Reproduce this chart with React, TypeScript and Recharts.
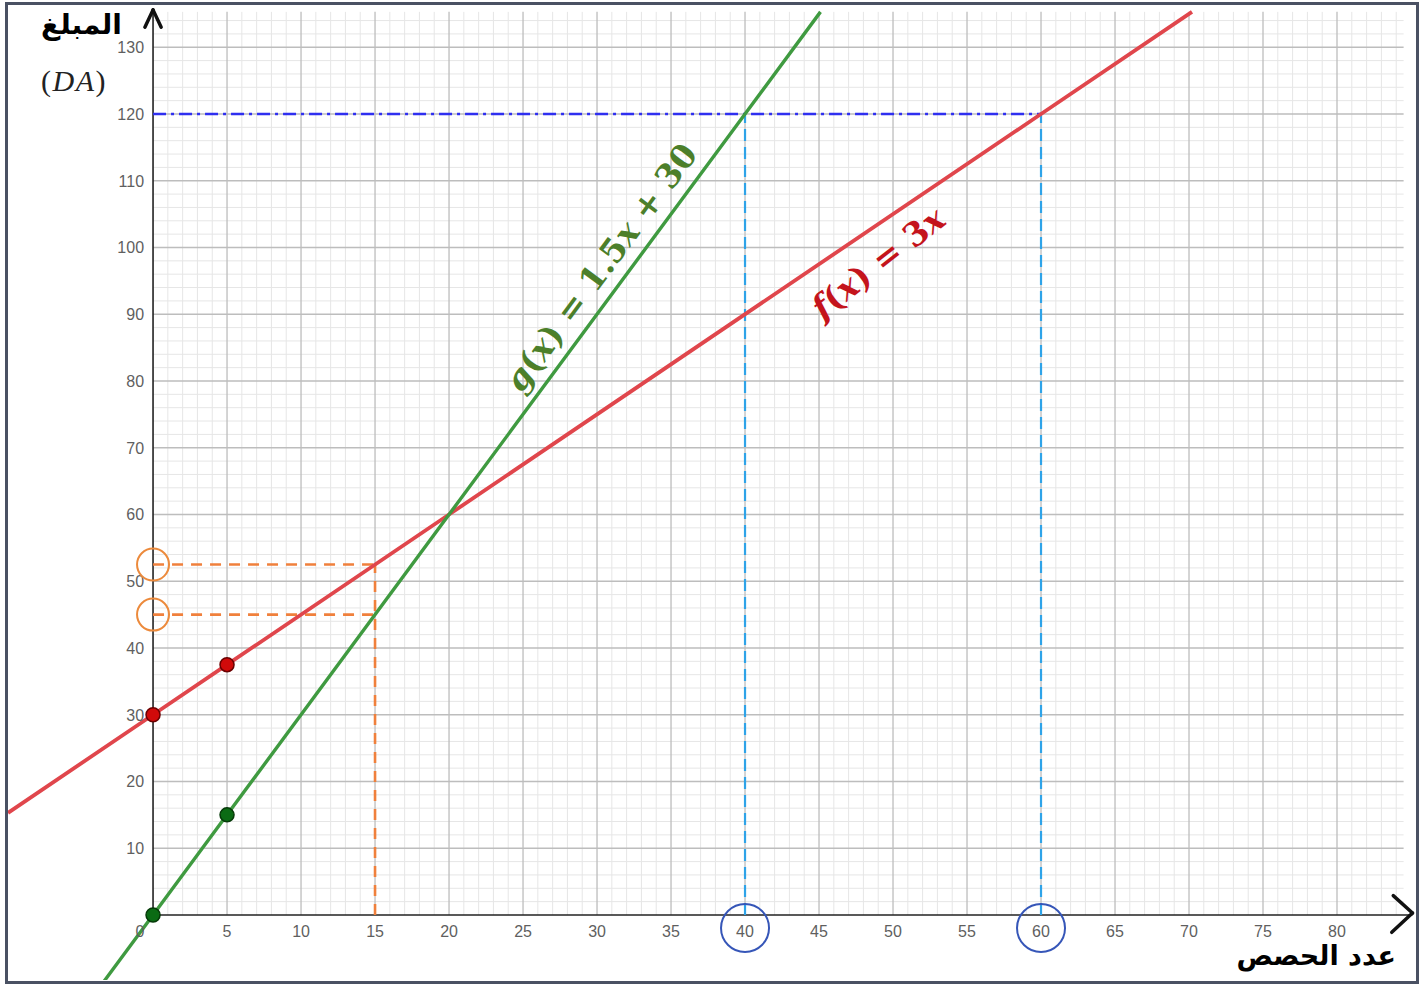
import React from "react";
import {
  ComposedChart,
  Line,
  Scatter,
  XAxis,
  YAxis,
  ReferenceLine,
  ReferenceDot,
} from "recharts";

const W = 1427;
const H = 985;

// axis ranges
const xDomain = [-9.8, 85.27];
const yDomain = [-9.74, 135.88];
const gridTopY = 135.3;
const gridRightX = 84.5;

const xTicks = [0, 5, 10, 15, 20, 25, 30, 35, 40, 45, 50, 55, 60, 65, 70, 75, 80];
const yTicks = [10, 20, 30, 40, 50, 60, 70, 80, 90, 100, 110, 120, 130];
const minorXStep = 1;
const minorYStep = 2;

// red line (labelled f(x) = 3x in the picture)
const redLine = [
  { x: -9.8, y: 15.3 },
  { x: 0, y: 30 },
  { x: 5, y: 37.5 },
  { x: 20, y: 60 },
  { x: 60, y: 120 },
  { x: 70.2, y: 135.3 },
];
const redDots = [
  { x: 0, y: 30 },
  { x: 5, y: 37.5 },
];

// green line (labelled g(x) = 1.5x + 30 in the picture)
const greenLine = [
  { x: -3.4, y: -10.2 },
  { x: 0, y: 0 },
  { x: 5, y: 15 },
  { x: 20, y: 60 },
  { x: 40, y: 120 },
  { x: 45.1, y: 135.3 },
];
const greenDots = [
  { x: 0, y: 0 },
  { x: 5, y: 15 },
];

// reading helpers
const orangeX = 15;
const orangeLevels = [52.5, 45];
const blueLevel = 120;
const blueXs = [40, 60];

const range = (from: number, to: number, step: number) => {
  const out: number[] = [];
  for (let v = from; v <= to + 1e-9; v += step) out.push(Math.round(v * 100) / 100);
  return out;
};

const minorX = range(0, 84, minorXStep).filter((v) => v % 5 !== 0);
const minorY = range(0, 134, minorYStep).filter((v) => v % 10 !== 0);
const majorX = range(5, 80, 5);
const majorY = range(10, 130, 10);

const tickFont = "'Liberation Sans', Arial, sans-serif";
const tickColor = "#5f5f5f";

const xTickLabel = (value: number) => (props: any) => {
  const { x, y } = props.viewBox;
  return (
    <text
      x={value === 0 ? x - 13 : x}
      y={y + 22}
      textAnchor="middle"
      fontFamily={tickFont}
      fontSize={16}
      fill={tickColor}
    >
      {value}
    </text>
  );
};

const yTickLabel = (value: number) => (props: any) => {
  const { x, y } = props.viewBox;
  return (
    <text
      x={x - 9}
      y={y + 6}
      textAnchor="end"
      fontFamily={tickFont}
      fontSize={16}
      fill={tickColor}
    >
      {value}
    </text>
  );
};

const rotatedLabel = (angle: number, color: string, parts: [string, boolean][]) => (props: any) => {
  const { x, y } = props.viewBox;
  return (
    <text
      x={x}
      y={y}
      transform={`rotate(${angle} ${x} ${y})`}
      textAnchor="middle"
      dominantBaseline="middle"
      fontFamily="'DejaVu Serif', 'Liberation Serif', serif"
      fontWeight="bold"
      fontSize={33}
      fill={color}
    >
      {parts.map(([t, it], i) => (
        <tspan key={i} fontStyle={it ? "italic" : "normal"}>
          {t}
        </tspan>
      ))}
    </text>
  );
};

const dotShape = (fill: string, stroke: string) => (props: any) => (
  <circle cx={props.cx} cy={props.cy} r={7} fill={fill} stroke={stroke} strokeWidth={1.5} />
);

export default function App() {
  return (
    <div style={{ position: "absolute", left: 0, top: 0, width: W, height: H, background: "#fff" }}>
      <div
        style={{
          position: "absolute",
          left: 5,
          top: 2,
          width: 1408,
          height: 976,
          border: "3px solid #4a5163",
          pointerEvents: "none",
        }}
      />
      <ComposedChart
        width={W}
        height={H}
        margin={{ top: 8, right: 12, bottom: 5, left: 8 }}
        style={{ position: "absolute", left: 0, top: 0 }}
      >
        <XAxis type="number" dataKey="x" domain={xDomain} allowDataOverflow hide />
        <YAxis type="number" dataKey="y" domain={yDomain} allowDataOverflow hide />

        {minorX.map((v) => (
          <ReferenceLine
            key={`mx${v}`}
            segment={[{ x: v, y: 0 }, { x: v, y: gridTopY }]}
            stroke="#e6e6e6"
            strokeWidth={1}
          />
        ))}
        {minorY.map((v) => (
          <ReferenceLine
            key={`my${v}`}
            segment={[{ x: 0, y: v }, { x: gridRightX, y: v }]}
            stroke="#e6e6e6"
            strokeWidth={1}
          />
        ))}
        {majorX.map((v) => (
          <ReferenceLine
            key={`Mx${v}`}
            segment={[{ x: v, y: 0 }, { x: v, y: gridTopY }]}
            stroke="#bdbdbd"
            strokeWidth={1.3}
          />
        ))}
        {majorY.map((v) => (
          <ReferenceLine
            key={`My${v}`}
            segment={[{ x: 0, y: v }, { x: gridRightX, y: v }]}
            stroke="#bdbdbd"
            strokeWidth={1.3}
          />
        ))}

        {/* axes */}
        <ReferenceLine segment={[{ x: 0, y: 0 }, { x: 0, y: 135.6 }]} stroke="#222" strokeWidth={1.6} />
        <ReferenceLine segment={[{ x: 0, y: 0 }, { x: 85.1, y: 0 }]} stroke="#222" strokeWidth={1.6} />
        <ReferenceLine segment={[{ x: -0.55, y: 133 }, { x: 0, y: 135.6 }]} stroke="#111" strokeWidth={3.5} strokeLinecap="round" />
        <ReferenceLine segment={[{ x: 0.55, y: 133 }, { x: 0, y: 135.6 }]} stroke="#111" strokeWidth={3.5} strokeLinecap="round" />
        <ReferenceLine segment={[{ x: 83.8, y: 2.9 }, { x: 85.1, y: 0.3 }]} stroke="#111" strokeWidth={3.5} strokeLinecap="round" />
        <ReferenceLine segment={[{ x: 83.7, y: -2.6 }, { x: 85.1, y: 0.3 }]} stroke="#111" strokeWidth={3.5} strokeLinecap="round" />

        {xTicks.map((t) => (
          <ReferenceDot key={`xt${t}`} x={t} y={0} r={0} fill="none" stroke="none" label={xTickLabel(t)} />
        ))}
        {yTicks.map((t) => (
          <ReferenceDot key={`yt${t}`} x={0} y={t} r={0} fill="none" stroke="none" label={yTickLabel(t)} />
        ))}

        {/* blue readings */}
        <ReferenceLine
          segment={[{ x: 0, y: blueLevel }, { x: blueXs[1], y: blueLevel }]}
          stroke="#2f2ff0"
          strokeWidth={2.6}
          strokeDasharray="13 5 3 5"
        />
        {blueXs.map((bx) => (
          <ReferenceLine
            key={`bv${bx}`}
            segment={[{ x: bx, y: 0 }, { x: bx, y: blueLevel }]}
            stroke="#2ea3e8"
            strokeWidth={2.2}
            strokeDasharray="12 6"
          />
        ))}

        {/* orange readings */}
        {orangeLevels.map((lv) => (
          <ReferenceLine
            key={`oh${lv}`}
            segment={[{ x: 0, y: lv }, { x: orangeX, y: lv }]}
            stroke="#f0803c"
            strokeWidth={2.6}
            strokeDasharray="11 8"
          />
        ))}
        <ReferenceLine
          segment={[{ x: orangeX, y: 0 }, { x: orangeX, y: orangeLevels[0] }]}
          stroke="#f0803c"
          strokeWidth={2.6}
          strokeDasharray="11 8"
        />

        <Line
          data={redLine}
          dataKey="y"
          type="linear"
          stroke="#e0464c"
          strokeWidth={3.8}
          dot={false}
          activeDot={false}
          isAnimationActive={false}
        />
        <Line
          data={greenLine}
          dataKey="y"
          type="linear"
          stroke="#3f9a40"
          strokeWidth={3.4}
          dot={false}
          activeDot={false}
          isAnimationActive={false}
        />

        <Scatter data={redDots} dataKey="y" shape={dotShape("#d10a0a", "#6a0000")} isAnimationActive={false} />
        <Scatter data={greenDots} dataKey="y" shape={dotShape("#0b6b14", "#053a08")} isAnimationActive={false} />

        {orangeLevels.map((lv) => (
          <ReferenceDot
            key={`oc${lv}`}
            x={0}
            y={lv}
            r={16}
            fill="none"
            stroke="#ec8a3c"
            strokeWidth={2}
          />
        ))}
        {blueXs.map((bx) => (
          <ReferenceDot
            key={`bc${bx}`}
            x={bx}
            y={-1.95}
            r={24}
            fill="none"
            stroke="#3656b8"
            strokeWidth={2}
          />
        ))}

        <ReferenceDot
          x={30.4}
          y={96.8}
          r={0}
          fill="none"
          stroke="none"
          label={rotatedLabel(-53.5, "#4c7f2a", [
            ["g", true],
            ["(", false],
            ["x", true],
            [") = 1.5", false],
            ["x", true],
            [" + 30", false],
          ])}
        />
        <ReferenceDot
          x={49.1}
          y={97.4}
          r={0}
          fill="none"
          stroke="none"
          label={rotatedLabel(-38, "#c4141c", [
            ["f", true],
            ["(", false],
            ["x", true],
            [") = 3", false],
            ["x", true],
          ])}
        />
      </ComposedChart>

      <div
        style={{
          position: "absolute",
          left: 41,
          top: 11,
          fontFamily: "'DejaVu Sans', sans-serif",
          fontWeight: "bold",
          fontSize: 28,
          lineHeight: 1,
          color: "#000",
          direction: "rtl",
        }}
      >
        المبلغ
      </div>
      <div
        style={{
          position: "absolute",
          left: 41,
          top: 64,
          fontFamily: "'Liberation Serif', serif",
          fontSize: 30,
          letterSpacing: 1.5,
          color: "#222",
        }}
      >
        (<i>DA</i>)
      </div>
      <div
        style={{
          position: "absolute",
          right: 31,
          top: 942,
          fontFamily: "'DejaVu Sans', sans-serif",
          fontWeight: "bold",
          fontSize: 27,
          lineHeight: 1,
          color: "#000",
          direction: "rtl",
        }}
      >
        عدد الحصص
      </div>
    </div>
  );
}
